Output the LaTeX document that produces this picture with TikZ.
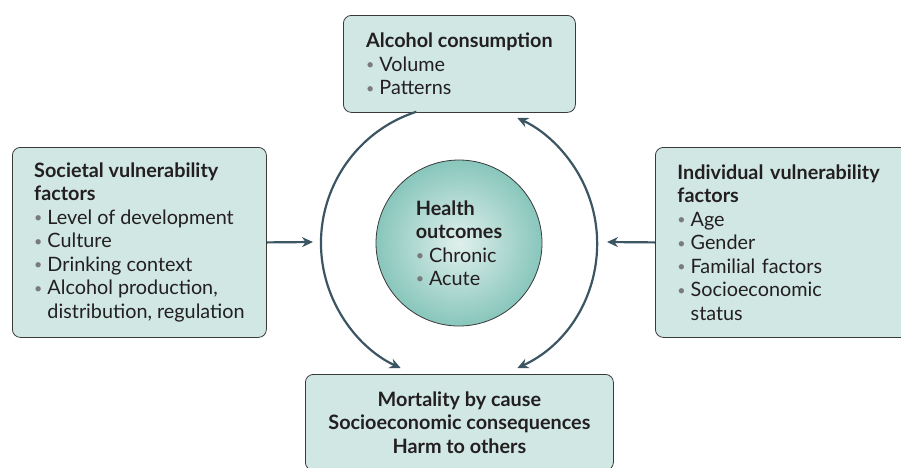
\documentclass[tikz,border=0pt]{standalone}
\usepackage{fontspec}
\setmainfont{Lato}
\usetikzlibrary{arrows.meta}

\definecolor{boxfill}{HTML}{D0E7E3}
\definecolor{boxline}{HTML}{3A3A3A}
\definecolor{flowline}{HTML}{3C5562}
\definecolor{bulgray}{HTML}{7A7A7A}
\definecolor{hubin}{HTML}{E0F0EC}
\definecolor{hubout}{HTML}{88C6BC}
\definecolor{inktext}{HTML}{231F20}

% bullet and the indent of a wrapped bullet line
\newcommand{\bul}{\raisebox{1.6pt}{\scalebox{0.72}{\textcolor{bulgray}{\textbullet}}}\hspace{5pt}}
\newcommand{\hangbul}{\phantom{\scalebox{0.72}{\textbullet}}\hspace{5pt}}

\begin{document}
\begin{tikzpicture}[x=1pt,y=1pt]
  \tikzset{
    every node/.style={text=inktext,font=\fontsize{19.8}{23.5}\selectfont},
    factorbox/.style={draw=boxline,fill=boxfill,rounded corners=8pt,
      line width=0.8pt,align=left,anchor=north west,inner xsep=0pt,inner ysep=0pt},
    flow/.style={draw=flowline,line width=2.2pt,-{Stealth[length=11pt,width=10pt]}},
    twoway/.style={draw=flowline,line width=2.2pt,
      {Stealth[length=11pt,width=10pt]}-{Stealth[length=11pt,width=10pt]}}
  }
  \useasboundingbox (0,0) rectangle (901,-467);

  % boxes
  \node[factorbox,minimum width=232pt,minimum height=97pt] (intake) at (343,-15)
    {\textbf{Alcohol consumption}\\ \bul Volume\\ \bul Patterns};
  \node[factorbox,minimum width=254pt,minimum height=190pt] (society) at (12,-147)
    {\textbf{Societal vulnerability}\\ \textbf{factors}\\
     \bul Level of development\\ \bul Culture\\ \bul Drinking context\\
     \bul Alcohol production,\\ \hangbul distribution, regulation};
  \node[factorbox,text width=230pt,minimum height=190pt,inner xsep=22pt] (person) at (655,-147)
    {\textbf{Individual vulnerability}\\ \textbf{factors}\\
     \bul Age\\ \bul Gender\\ \bul Familial factors\\
     \bul Socioeconomic\\ \hangbul status};
  \node[factorbox,minimum width=308pt,minimum height=96pt,align=center] (harm) at (305,-374)
    {\textbf{Mortality by cause}\\ \textbf{Socioeconomic consequences}\\ \textbf{Harm to others}};

  % centre
  \coordinate (hub) at (459,-243);
  \node[circle,draw=boxline,line width=0.8pt,shade,inner color=hubin,outer color=hubout,
    minimum size=166pt,inner sep=0pt,align=left] (health) at (hub)
    {\textbf{Health}\\ \textbf{outcomes}\\ \bul Chronic\\ \bul Acute};

  % ring
  \draw[flow] ([shift={(108:138)}]hub) arc[start angle=108,end angle=245,radius=138];
  \draw[twoway] ([shift={(-65:138)}]hub) arc[start angle=-65,end angle=65,radius=138];

  % side arrows
  \coordinate (socin) at (313,-242);
  \coordinate (perin) at (607,-242);
  \draw[flow] (society.east) -- (socin);
  \draw[flow] (person.west) -- (perin);
\end{tikzpicture}
\end{document}
